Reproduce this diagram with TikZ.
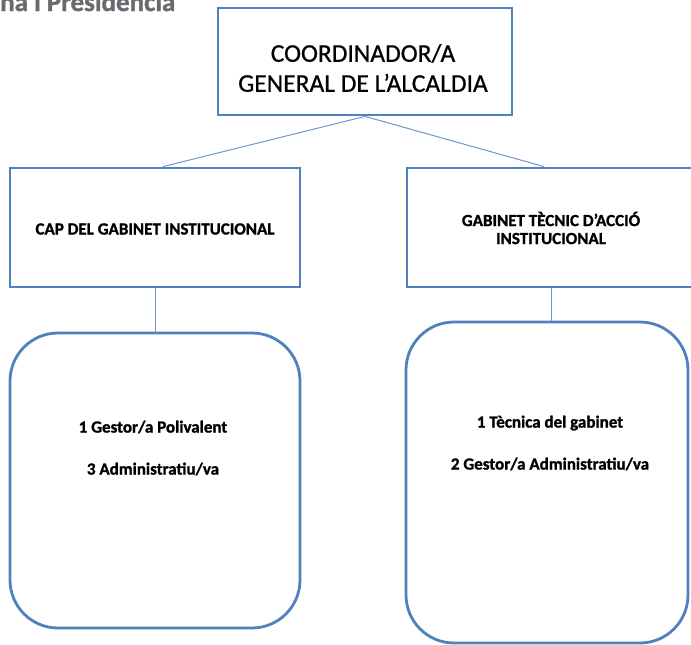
\documentclass[tikz,border=0pt]{standalone}
\usepackage{fontspec}
\setmainfont{Carlito}[BoldFeatures={FakeBold=1.2}]
\newfontfamily\topfont{Carlito}[FakeBold=0.7]
\usetikzlibrary{calc}
\definecolor{boxblue}{RGB}{79,129,189}
\definecolor{linkblue}{RGB}{110,150,205}
\definecolor{headgrey}{RGB}{105,105,112}
\begin{document}
\begin{tikzpicture}[x=1pt,y=-1pt,
  box/.style={draw=boxblue,line width=2.8pt,fill=white,inner sep=0pt,anchor=center},
  rbox/.style={box,rounded corners=48pt},
  link/.style={draw=linkblue,line width=1pt},
  toptext/.style={font=\topfont\fontsize{25.5}{30}\selectfont,align=center,inner sep=0pt},
  boxtext/.style={font=\fontsize{17}{18}\selectfont\bfseries,align=center,inner sep=0pt},
  stafftext/.style={font=\fontsize{17}{42}\selectfont\bfseries,align=center,inner sep=0pt}]
\path[use as bounding box] (0,0) rectangle (691,645);
\begin{scope}
\clip (0,0) rectangle (691,645);
% heading cut off at the top
\node[anchor=base west,inner sep=0pt,text=headgrey,font=\fontsize{27}{30}\selectfont\bfseries] (head) at (0,11) {na i Presidencia};
% boxes
\node[box,minimum width=294pt,minimum height=107pt] (top) at (365,61.5) {};
\node[box,minimum width=290pt,minimum height=119pt] (left) at (155,227.5) {};
\node[box,minimum width=290pt,minimum height=119pt] (right) at (552,227.5) {};
\node[rbox,minimum width=290pt,minimum height=295pt] (lstaff) at (155,480.5) {};
\node[rbox,minimum width=282pt,minimum height=321pt] (rstaff) at (547,482.5) {};
% connectors
\draw[link] (top.south) -- ([xshift=8pt]left.north);
\draw[link] (top.south) -- ([xshift=-8pt]right.north);
\draw[link] (left.south) -- (lstaff.north);
\draw[link] ([xshift=-1pt]right.south) -- ([xshift=4pt]rstaff.north);
% texts
\node[toptext] (toplbl) at (363,68) {COORDINADOR/A\\GENERAL DE L’ALCALDIA};
\node[boxtext] (leftlbl) at (155,229) {CAP DEL GABINET INSTITUCIONAL};
\node[boxtext] (rightlbl) at (551,228) {GABINET TÈCNIC D’ACCIÓ\\INSTITUCIONAL};
\node[stafftext] (lstafflbl) at (153,448) {1 Gestor/a Polivalent\\3 Administratiu/va};
\node[stafftext] (rstafflbl) at (550,443) {1 Tècnica del gabinet\\2 Gestor/a Administratiu/va};
\end{scope}
\end{tikzpicture}
\end{document}
